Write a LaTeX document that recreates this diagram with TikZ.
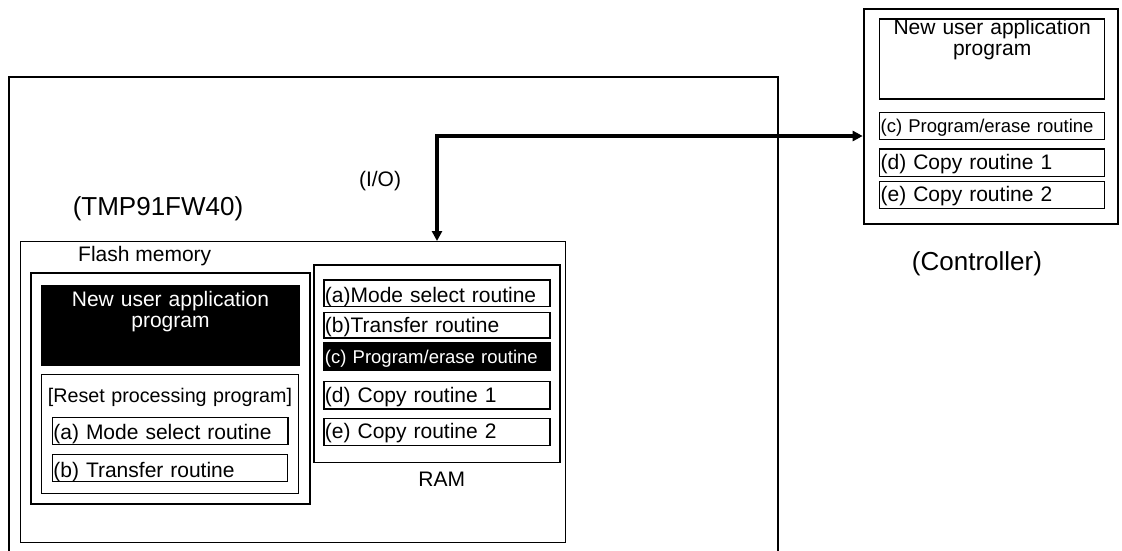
\documentclass[tikz,border=0pt]{standalone}
\usepackage{fontspec}
\setmainfont{Liberation Sans}
\usetikzlibrary{arrows.meta}
\newcommand{\myfs}[1]{\fontsize{#1}{21}\selectfont}
\begin{document}
\begin{tikzpicture}[x=1pt,y=-1pt,
  frame/.style={draw, line width=#1, inner sep=0pt, anchor=north west},
  rbox/.style={draw, line width=1.3pt, inner xsep=1pt, inner ysep=0pt,
    anchor=north west, align=left, font=\myfs{21}},
  blk/.style={fill=black, text=white},
  lbl/.style={inner sep=0pt, anchor=base, font=\myfs{21}},
  big/.style={inner sep=0pt, anchor=base, font=\myfs{26}},
  io/.style={line width=4pt, {Triangle[length=10pt,width=10pt]}-{Triangle[length=10pt,width=10pt]}}
]
\useasboundingbox (0,0) rectangle (1122,550);

% outer device outline (open at bottom)
\coordinate (obl) at (9,552);
\coordinate (obr) at (778,552);
\draw[line width=2pt] (obl) -- (9,77) -- (778,77) -- (obr);

\node[big] (tmp) at (158,215) {(TMP91FW40)};
\node[lbl] (iolbl) at (380,186.7) {(I/O)};

% chip
\node[frame=1.3pt, minimum width=545pt, minimum height=301pt] (chip) at (20,241) {};

% flash memory
\node[lbl, anchor=base west] (flashlbl) at (78,261.7) {Flash memory};
\node[frame=2pt, minimum width=279pt, minimum height=231pt] (flash) at (30,272.3) {};
\node[rbox, blk, align=center, text width=256.3pt, text height=21pt, text depth=59pt] (newapp) at (40.7,285) {New user application\\program};
\node[rbox, align=center, font=\myfs{19.7}, text width=255.3pt, text height=27.7pt, text depth=91pt] (reset) at (40.7,374) {\mbox{[Reset processing program]}};
\node[rbox, text width=233.6pt, text height=22.3pt, text depth=4.7pt] (la) at (51.7,417) {(a) Mode select routine};
\node[rbox, text width=233pt, text height=22.7pt, text depth=4pt] (lb) at (51.7,454) {(b) Transfer routine};

% RAM
\node[frame=1.6pt, minimum width=246pt, minimum height=197.7pt] (ram) at (313.3,264) {};
\node[lbl] (ramlbl) at (441.7,486.7) {RAM};
\node[rbox, text width=224pt, text height=22.7pt, text depth=4pt] (ra) at (323.3,279.3) {(a)Mode select routine};
\node[rbox, text width=224pt, text height=20.6pt, text depth=5pt] (rb) at (323.3,311.7) {(b)Transfer routine};
\node[rbox, blk, font=\myfs{18.5}, text width=224pt, text height=21pt, text depth=6.6pt] (rc) at (323.3,341.7) {(c) Program/erase routine};
\node[rbox, text width=224pt, text height=20.7pt, text depth=6.6pt] (rd) at (323.3,381) {(d) Copy routine 1};
\node[rbox, text width=224pt, text height=20.6pt, text depth=6.7pt] (re) at (323.3,417.7) {(e) Copy routine 2};

% controller
\node[frame=2pt, minimum width=254.3pt, minimum height=215pt] (ctrl) at (862.7,8.3) {};
\node[big] (ctrllbl) at (977,270) {(Controller)};
\node[rbox, align=center, text width=223pt, text height=16pt, text depth=64pt] (capp) at (879,18.3) {New user application\\program};
\node[rbox, font=\myfs{18.5}, text width=223pt, text height=20.3pt, text depth=7pt] (cc) at (879,111.7) {(c) Program/erase routine};
\node[rbox, text width=223pt, text height=21pt, text depth=6.4pt] (cd) at (879,148.3) {(d) Copy routine 1};
\node[rbox, text width=223pt, text height=20pt, text depth=7pt] (ce) at (879,180.7) {(e) Copy routine 2};

% I/O connection
\coordinate (bend) at (437,136);
\draw[io] (bend -| ctrl.west) -- (bend) -- (bend |- chip.north);
\end{tikzpicture}
\end{document}
